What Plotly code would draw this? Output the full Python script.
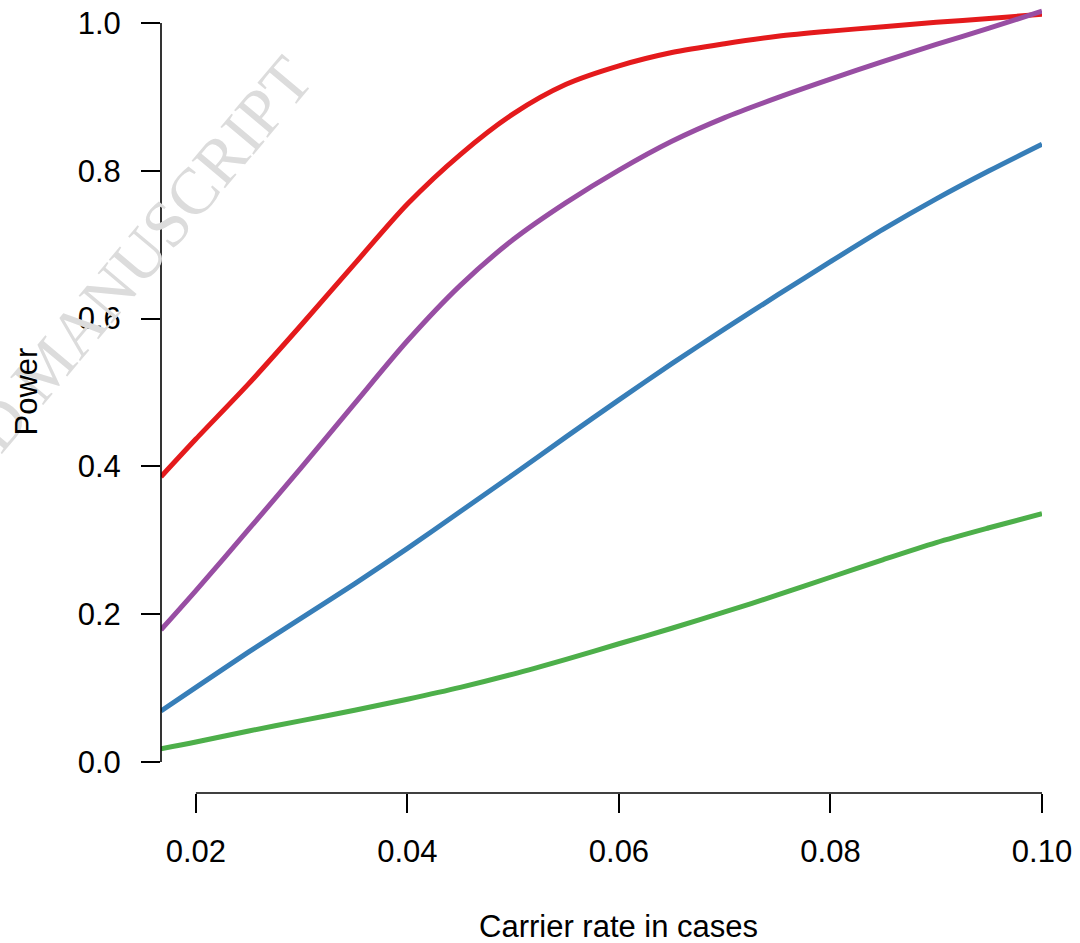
import plotly.graph_objects as go

# Carrier rate in cases (x) and power curves (y)
carrier_rate = [0.0167, 0.02, 0.025, 0.03, 0.035, 0.04, 0.045, 0.05, 0.055, 0.06,
                0.065, 0.07, 0.075, 0.08, 0.085, 0.09, 0.095, 0.10]

power_red = [0.386, 0.437, 0.512, 0.592, 0.674, 0.755, 0.822, 0.877, 0.917, 0.942,
             0.960, 0.972, 0.982, 0.989, 0.995, 1.001, 1.006, 1.012]
power_purple = [0.179, 0.232, 0.315, 0.399, 0.485, 0.570, 0.645, 0.707, 0.757, 0.801,
                0.840, 0.872, 0.899, 0.924, 0.948, 0.971, 0.993, 1.016]
power_blue = [0.069, 0.101, 0.149, 0.195, 0.241, 0.289, 0.339, 0.389, 0.440, 0.490,
              0.539, 0.586, 0.632, 0.677, 0.721, 0.762, 0.800, 0.836]
power_green = [0.018, 0.027, 0.042, 0.056, 0.070, 0.085, 0.101, 0.119, 0.139, 0.160,
               0.181, 0.203, 0.226, 0.250, 0.274, 0.297, 0.317, 0.336]

series = [
    ("red", power_red, "#E41A1C"),
    ("purple", power_purple, "#984EA3"),
    ("blue", power_blue, "#377EB8"),
    ("green", power_green, "#4DAF4A"),
]

x_ticks = [0.02, 0.04, 0.06, 0.08, 0.10]
x_ticklabels = ["0.02", "0.04", "0.06", "0.08", "0.10"]
y_ticks = [0.0, 0.2, 0.4, 0.6, 0.8, 1.0]
y_ticklabels = ["0.0", "0.2", "0.4", "0.6", "0.8", "1.0"]

FONT = "Liberation Sans, Arial, Helvetica, sans-serif"
W, H = 1080, 943
ML, MR, MT, MB = 161, 38, 0, 150
plot_h = H - MT - MB  # 793 px
px_per_unit = 739.0
y_lo = -(plot_h - 762) / px_per_unit
y_hi = y_lo + plot_h / px_per_unit

fig = go.Figure()
for name, ys, col in series:
    fig.add_trace(go.Scatter(
        x=carrier_rate, y=ys, mode="lines", name=name,
        line=dict(color=col, width=5, shape="spline", smoothing=0.8),
        showlegend=False, hoverinfo="skip",
    ))

axis_col = "black"
fig.update_layout(
    width=W, height=H,
    margin=dict(l=ML, r=MR, t=MT, b=MB),
    paper_bgcolor="white", plot_bgcolor="white",
    font=dict(family=FONT, size=31, color="black"),
    xaxis=dict(
        range=[carrier_rate[0], carrier_rate[-1]],
        tickvals=x_ticks, ticktext=x_ticklabels,
        ticks="outside", ticklen=19, tickwidth=1.6, tickcolor=axis_col,
        showgrid=False, zeroline=False, showline=False,
        tickfont=dict(family=FONT, size=31, color="black"),
        ticklabelstandoff=12,
    ),
    yaxis=dict(
        range=[y_lo, y_hi],
        tickvals=y_ticks, ticktext=y_ticklabels,
        ticks="outside", ticklen=19, tickwidth=1.6, tickcolor=axis_col,
        showgrid=False, zeroline=False, showline=False,
        tickfont=dict(family=FONT, size=31, color="black"),
        ticklabelstandoff=14,
    ),
)

# R-style axis lines spanning only first to last tick
fig.add_shape(type="line", xref="x", yref="paper",
              x0=x_ticks[0], x1=x_ticks[-1], y0=0, y1=0,
              line=dict(color=axis_col, width=1.6))
fig.add_shape(type="line", xref="paper", yref="y",
              x0=0, x1=0, y0=y_ticks[0], y1=y_ticks[-1],
              line=dict(color=axis_col, width=1.6))

# watermark (drawn first so axis labels sit above it)
fig.add_annotation(text="ACCEPTED MANUSCRIPT", xref="paper", yref="paper",
                   x=(46 - ML) / (W - ML - MR), y=(plot_h - 366) / plot_h,
                   textangle=-50, xanchor="center", yanchor="middle", showarrow=False,
                   font=dict(family="Liberation Serif, Times New Roman, serif", size=66,
                             color="#dcdcdc"))

# axis titles
fig.add_annotation(text="Carrier rate in cases", xref="x", yref="paper",
                   x=0.06, y=-(926 - plot_h) / plot_h,
                   xanchor="center", yanchor="middle", showarrow=False,
                   font=dict(family=FONT, size=31, color="black"))
fig.add_annotation(text="Power", xref="paper", yref="paper",
                   x=(26 - ML) / (W - ML - MR), y=(plot_h - 391.5) / plot_h,
                   textangle=-90, xanchor="center", yanchor="middle", showarrow=False,
                   font=dict(family=FONT, size=31, color="black"))

fig.write_html("out.html",
               config={"displayModeBar": False},
               post_script="document.body.style.margin='0';document.body.style.overflow='hidden';")
